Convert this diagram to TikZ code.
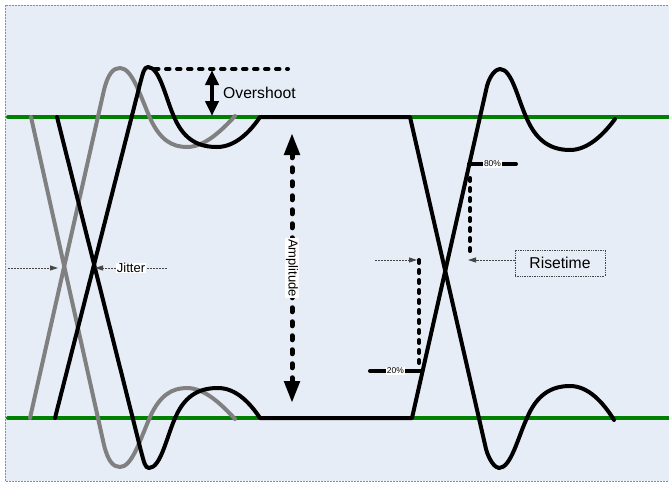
\documentclass[tikz,border=0pt]{standalone}
\usepackage{fontspec}
\setmainfont{Liberation Sans}
\usetikzlibrary{arrows.meta}
\definecolor{bgblue}{RGB}{231,237,247}
\definecolor{eyegreen}{RGB}{0,128,0}
\definecolor{eyegray}{RGB}{128,128,128}
\definecolor{thingray}{RGB}{70,70,70}
\definecolor{bordergray}{RGB}{140,140,150}
\tikzset{
  greenline/.style={draw=eyegreen, line width=4pt, line cap=round},
  graycurve/.style={draw=eyegray, line width=4pt, line cap=round, line join=round},
  blackcurve/.style={draw=black, line width=4pt, line cap=round, line join=round},
  thickdash/.style={draw=black, line width=4pt, line cap=round, dash pattern=on 3.5pt off 7.5pt},
  ampldash/.style={draw=black, line width=5pt, line cap=round, dash pattern=on 4pt off 10pt},
  thinarrow/.style={draw=thingray, line width=0.8pt, dash pattern=on 2pt off 1pt, -{Triangle[length=8pt,width=5pt]}},
  lbl/.style={fill=white, inner sep=1pt, text=black},
  bigfont/.style={font=\fontsize{15.7}{18}\selectfont},
  midfont/.style={font=\fontsize{13}{15}\selectfont},
  smallfont/.style={font=\fontsize{8.5}{10}\selectfont},
  risebox/.style={draw=thingray, densely dotted, line width=0.7pt, minimum width=90pt, minimum height=26pt, inner sep=0pt},
  markline/.style={draw=black, line width=4pt, line cap=round},
}
\begin{document}
\begin{tikzpicture}[x=1pt,y=-1pt]
\useasboundingbox (0,0) rectangle (669,483);
% background panel
\fill[bgblue] (5,5) rectangle (690,481);
\draw[bordergray, line width=0.8pt, dash pattern=on 2pt off 1pt] (5,5) rectangle (690,481);

% green reference levels
\coordinate (gt0) at (8,117); \coordinate (gt1) at (680,117);
\coordinate (gb0) at (8,418); \coordinate (gb1) at (680,418);
\draw[greenline] (gt0) -- (gt1);
\draw[greenline] (gb0) -- (gb1);

% gray (jittered) edges
\draw[graycurve] (30,418) -- (104,90) .. controls (108,74) and (113,68) .. (120,68)
  .. controls (132,68) and (140,95) .. (150,118)
  .. controls (160,140) and (172,147) .. (187,147)
  .. controls (205,147) and (222,130) .. (235,116);
\draw[graycurve] (31,117) -- (104,445) .. controls (108,461) and (113,467) .. (120,467)
  .. controls (132,467) and (140,440) .. (150,417)
  .. controls (160,395) and (172,388) .. (187,388)
  .. controls (205,388) and (222,405) .. (235,419);

% black edges
\draw[blackcurve] (55,418) -- (140,84) .. controls (143,73) and (144,67) .. (148,67)
  .. controls (160,67) and (166,100) .. (175,119)
  .. controls (185,141) and (200,147) .. (217,147)
  .. controls (235,147) and (250,132) .. (260,117)
  -- (410,117) -- (486,449)
  .. controls (489,460) and (495,468) .. (499,468)
  .. controls (511,468) and (518,437) .. (527,418)
  .. controls (537,394) and (552,386) .. (570,386)
  .. controls (588,386) and (603,402) .. (614,420);
\draw[blackcurve] (57,117) -- (141,451) .. controls (144,462) and (145,468) .. (149,468)
  .. controls (161,468) and (167,435) .. (176,416)
  .. controls (186,394) and (201,388) .. (218,388)
  .. controls (236,388) and (250,403) .. (260,418)
  -- (412,418) -- (487,86)
  .. controls (490,75) and (496,69) .. (500,69)
  .. controls (512,69) and (518,100) .. (527,119)
  .. controls (537,142) and (552,150) .. (570,150)
  .. controls (588,150) and (604,134) .. (615,119);

% overshoot
\coordinate (os0) at (155,69); \coordinate (os1) at (288,69);
\draw[thickdash] (os0) -- (os1);
\coordinate (oa0) at (212,70); \coordinate (oa1) at (212,116);
\draw[line width=4pt, {Triangle[length=15pt,width=13pt]}-{Triangle[length=15pt,width=13pt]}] (oa0) -- (oa1);
\node[bigfont, anchor=west, inner sep=0pt] (ost) at (223,92.5) {Overshoot};

% amplitude
\coordinate (am0) at (292,133); \coordinate (am1) at (292,403);
\draw[ampldash, {Triangle[length=22pt,width=15pt]}-{Triangle[length=22pt,width=15pt]}] (am0) -- (am1);
\node[lbl, midfont, rotate=-90] (amp) at (292,268) {Amplitude};

% jitter
\coordinate (jl0) at (8,268); \coordinate (jl1) at (58,268);
\coordinate (jr0) at (167,268); \coordinate (jr1) at (95,268);
\draw[thinarrow] (jl0) -- (jl1);
\draw[thinarrow] (jr0) -- (jr1);
\node[lbl, midfont, inner sep=0.5pt] (jit) at (131,268) {Jitter};

% risetime markers
\coordinate (r80a) at (470,178); \coordinate (r80b) at (470,253);
\coordinate (r20a) at (419,260); \coordinate (r20b) at (419,370);
\draw[thickdash, dash pattern=on 3pt off 7pt] (r80a) -- (r80b);
\draw[thickdash, dash pattern=on 3pt off 7pt] (r20a) -- (r20b);
\coordinate (p80a) at (469,164); \coordinate (p80b) at (516,164);
\coordinate (p20a) at (370,371); \coordinate (p20b) at (422,371);
\draw[markline] (p80a) -- (p80b);
\draw[markline] (p20a) -- (p20b);
\node[lbl, smallfont, inner sep=0.6pt] (l80) at (492.5,164) {80\%};
\node[lbl, smallfont, inner sep=0.6pt] (l20) at (395.5,371) {20\%};

\node[risebox, bigfont] (rise) at (560,263) {Risetime};
\coordinate (rl0) at (375,260); \coordinate (rl1) at (417,260);
\coordinate (rr0) at (515,260); \coordinate (rr1) at (468,260);
\draw[thinarrow] (rl0) -- (rl1);
\draw[thinarrow] (rr0) -- (rr1);
\end{tikzpicture}
\end{document}
